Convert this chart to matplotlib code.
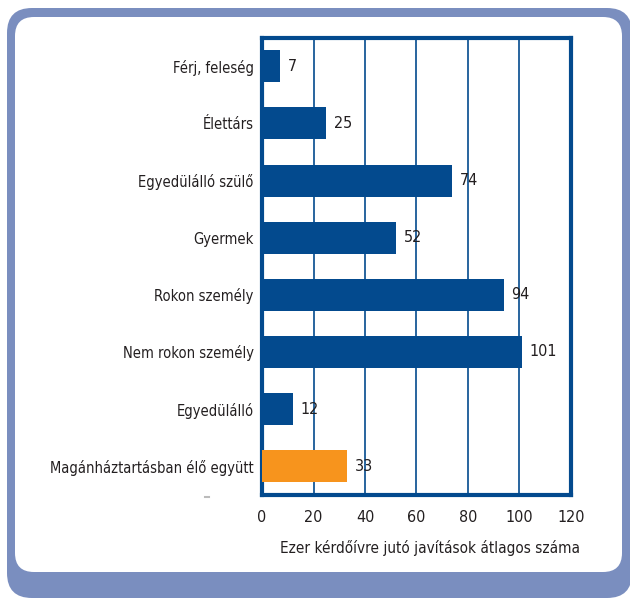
import matplotlib.pyplot as plt
from matplotlib.patches import FancyBboxPatch

# data
categories = [
    "Férj, feleség",
    "Élettárs",
    "Egyedülálló szülő",
    "Gyermek",
    "Rokon személy",
    "Nem rokon személy",
    "Egyedülálló",
    "Magánháztartásban élő együtt",
]
values = [7, 25, 74, 52, 94, 101, 12, 33]
bar_colors = ["#034a8e"] * 7 + ["#f7941d"]
xticks = [0, 20, 40, 60, 80, 100, 120]
xlabel = "Ezer kérdőívre jutó javítások átlagos száma"

DARK_BLUE = "#034a8e"
FRAME_BLUE = "#7a8ebf"
TEXT = "#231f20"

plt.rcParams["font.family"] = ["DejaVu Sans"]
plt.rcParams["font.stretch"] = "condensed"
FS = 11.5

fig = plt.figure(figsize=(6.30, 5.99), dpi=100)

# rounded frame in pixel coordinates
bg = fig.add_axes([0, 0, 1, 1], zorder=0)
bg.set_xlim(0, 630)
bg.set_ylim(599, 0)
bg.axis("off")
bg.add_patch(FancyBboxPatch((7 + 25, 8 + 25), 625 - 50, 590 - 50,
                            boxstyle="round,pad=25", fc=FRAME_BLUE, ec="none"))
bg.add_patch(FancyBboxPatch((15 + 19, 17 + 19), 607 - 38, 555 - 38,
                            boxstyle="round,pad=19", fc="white", ec="none"))
bg.plot([205, 209], [497, 497], color="#bbbbbb", lw=1.5)
bg.text(580, 548, xlabel, ha="right", va="center", fontsize=11, color=TEXT)

ax = fig.add_axes([0.416, 0.174, 0.490, 0.763], zorder=1)
ax.set_facecolor("none")
pos = list(range(len(categories)))
ax.barh(pos, values, height=0.56, color=bar_colors, zorder=3)
for p, v in zip(pos, values):
    ax.text(v + 3, p, str(v), va="center", ha="left", fontsize=FS, color=TEXT)

ax.set_ylim(len(categories) - 0.5, -0.5)
ax.set_xlim(0, 120)
ax.set_xticks(xticks)
ax.set_xticklabels([str(t) for t in xticks], fontsize=FS, color=TEXT)
ax.set_yticks(pos)
ax.set_yticklabels(categories, fontsize=10.5, color=TEXT)
ax.tick_params(axis="x", length=0, pad=11)
ax.tick_params(axis="y", length=0, pad=6)

ax.grid(axis="x", color=DARK_BLUE, lw=1.2, zorder=1)
for s in ax.spines.values():
    s.set_color(DARK_BLUE)
    s.set_linewidth(3)

fig.savefig("out.png", dpi=100)
